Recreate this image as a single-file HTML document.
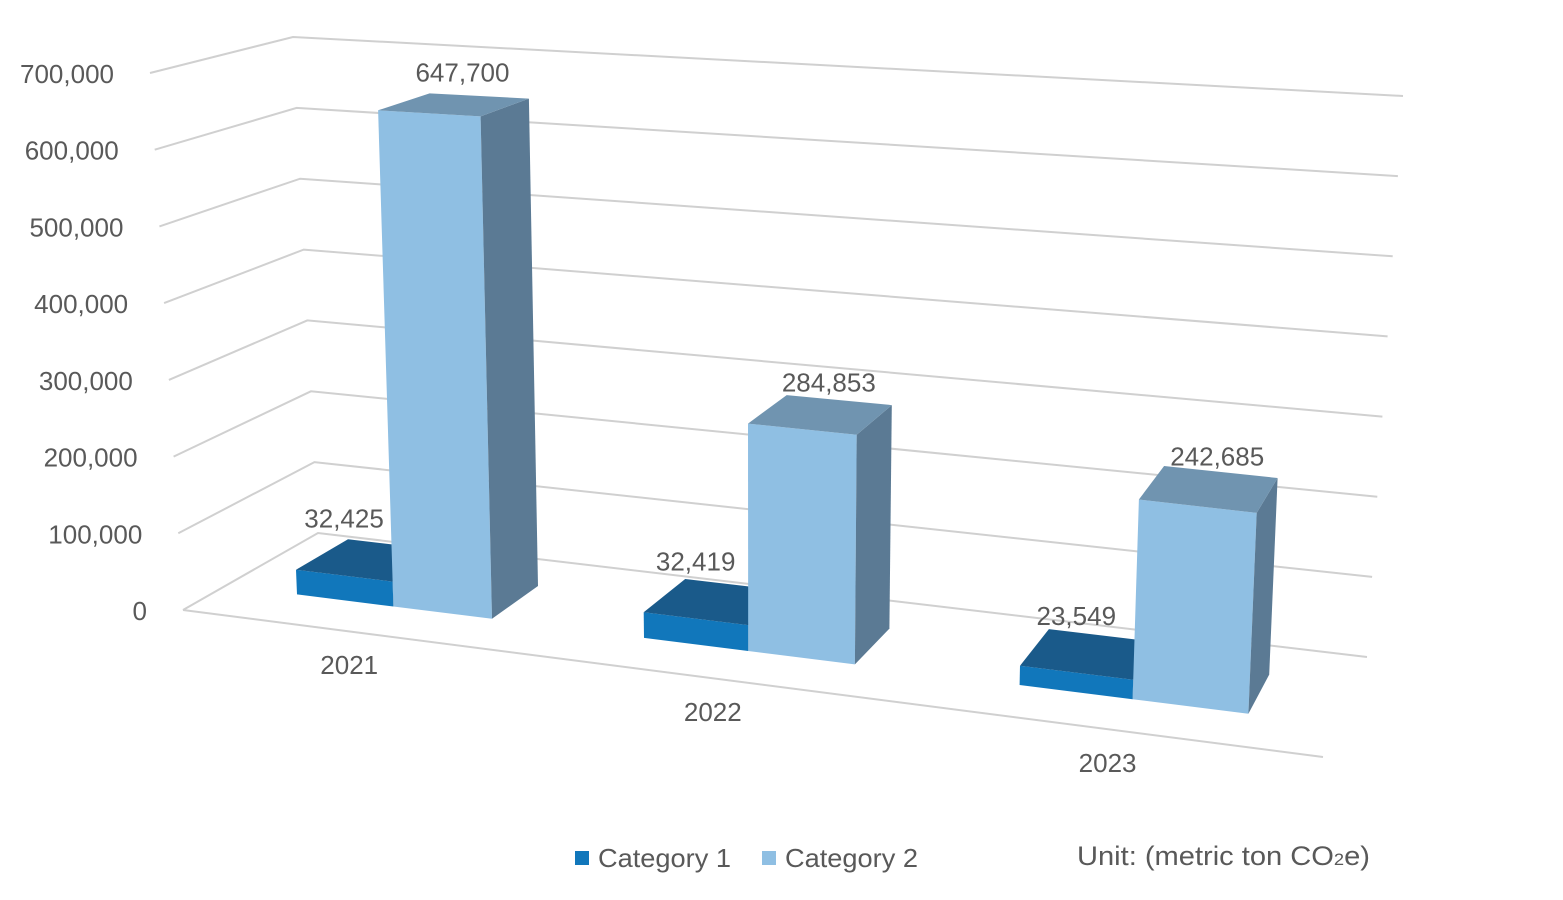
<!DOCTYPE html>
<html><head><meta charset="utf-8">
<style>
html,body{margin:0;padding:0;background:#fff;}
body{width:1563px;height:895px;overflow:hidden;font-family:"Liberation Sans",sans-serif;}
svg text{font-family:"Liberation Sans",sans-serif;fill:#595959;}
</style></head>
<body>
<svg id="chart" width="1563" height="895" viewBox="0 0 1563 895" xmlns="http://www.w3.org/2000/svg">
<g id="grid"></g>
<g id="ylabels"></g>
<g id="bars"></g>
<g id="xlabels"></g>
<g>
  <rect x="575" y="851" width="14" height="14" fill="#1177bb"/>
  <text x="598" y="867" font-size="26" textLength="133" lengthAdjust="spacingAndGlyphs">Category 1</text>
  <rect x="762" y="851" width="14" height="14" fill="#8fbfe3"/>
  <text x="785" y="867" font-size="26" textLength="133" lengthAdjust="spacingAndGlyphs">Category 2</text>
</g>
<text x="1077" y="865" font-size="27" textLength="293" lengthAdjust="spacingAndGlyphs">Unit: (metric ton CO<tspan font-size="17">2</tspan>e)</text>
</svg>
<script>
const categories = ["2021", "2022", "2023"];
const series1 = [32425, 32419, 23549];
const series2 = [647700, 284853, 242685];
const yTicks = [0, 100000, 200000, 300000, 400000, 500000, 600000, 700000];
const yTickLabels = ["0", "100,000", "200,000", "300,000", "400,000", "500,000", "600,000", "700,000"];
const valueLabels1 = ["32,425", "32,419", "23,549"];
const valueLabels2 = ["647,700", "284,853", "242,685"];

const NS = "http://www.w3.org/2000/svg";
const VMAX = 700000;
function homog(q){
  const [x0,y0]=q[0],[x1,y1]=q[1],[x2,y2]=q[2],[x3,y3]=q[3];
  const dx1=x1-x2,dx2=x3-x2,dx3=x0-x1+x2-x3,dy1=y1-y2,dy2=y3-y2,dy3=y0-y1+y2-y3;
  const den=dx1*dy2-dx2*dy1;
  const g=(dx3*dy2-dx2*dy3)/den,h=(dx1*dy3-dx3*dy1)/den;
  const a=x1-x0+g*x1,b=x3-x0+h*x3,c=x0,d=y1-y0+g*y1,e=y3-y0+h*y3,f=y0;
  return (u,v)=>{const w=g*u+h*v+1;return [(a*u+b*v+c)/w,(d*u+e*v+f)/w];};
}
const baseQ=[[183,610],[1323,757],[1367,657],[318,533]];
const topQ=[[150,73],[1360,168],[1403,96],[293,37]];
const Hb = homog(baseQ);
const Ht = homog(topQ);
function P(u,d,v){
  const a=Hb(u,d),b=Ht(u,d),t=v/VMAX;
  return [a[0]+(b[0]-a[0])*t,a[1]+(b[1]-a[1])*t];
}
function PB(u,d,v){
  const a=Hb(u,d),b=Ht(u,d),t=v/VMAX;
  const up=(a[1]-b[1])*t;
  const k=-0.032+(a[0]-380)*(0.068/810);
  return [a[0]+k*up,a[1]-up];
}
function el(tag,attrs,parent){const e=document.createElementNS(NS,tag);for(const k in attrs)e.setAttribute(k,attrs[k]);parent.appendChild(e);return e;}
function pts(a){return a.map(p=>p[0].toFixed(1)+","+p[1].toFixed(1)).join(" ");}

const grid=document.getElementById("grid");
yTicks.forEach((v,i)=>{
  const a=P(0,0,v),b=P(0,1,v),c=P(1,1,v);
  const pl=el("polyline",{points:pts([a,b,c]),fill:"none",stroke:"#d0d0d0","stroke-width":"2"},grid);
  
  
});
const fl=el("line",{x1:P(0,0,0)[0],y1:P(0,0,0)[1],x2:P(1,0,0)[0],y2:P(1,0,0)[1],stroke:"#d0d0d0","stroke-width":"2"},grid);



const yl=document.getElementById("ylabels");
yTicks.forEach((v,i)=>{
  const p=P(0,0,v);
  const t=el("text",{x:p[0]-36,y:p[1]+10,"text-anchor":"end","font-size":"26"},yl);
  t.textContent=yTickLabels[i];
  
  
});

const bars=document.getElementById("bars");
const nG=categories.length, gw=1/nG, bw=gw/3.5, gap=(gw-2*bw)/2, d0=0.3, d1=0.7;
const colors=[{front:"#1177bb",top:"#1a5a8a",side:"#1a5a8a"},{front:"#8fbfe3",top:"#7094b0",side:"#5b7a94"}];
function drawBar(u0,u1,v,col,name,label,front){
  const g=el("g",{},bars);
  
  
  el("polygon",{points:pts([PB(u0,d0,0),PB(u1,d0,0),PB(u1,d0,v),PB(u0,d0,v)]),fill:col.front},g);
  el("polygon",{points:pts([PB(u1,d0,0),PB(u1,d1,0),PB(u1,d1,v),PB(u1,d0,v)]),fill:col.side},g);
  el("polygon",{points:pts([PB(u0,d0,v),PB(u1,d0,v),PB(u1,d1,v),PB(u0,d1,v)]),fill:col.top},g);
  let c,dy,dx;
  if(front){c=PB((u0+u1)/2,d0,v);dx=0;dy=-48;}
  else{c=PB((u0+u1)/2,(d0+d1)/2,v);dx=8;dy=-23;}
  const t=el("text",{x:c[0]+dx,y:c[1]+dy,"text-anchor":"middle","font-size":"26"},bars);
  t.textContent=label;
  
  
}
for(let g=nG-1;g>=0;g--){
  const u0=g*gw+gap;
  drawBar(u0,u0+bw,series1[g],colors[0],"bar-category-1-"+categories[g],valueLabels1[g],true);
  drawBar(u0+bw,u0+2*bw,series2[g],colors[1],"bar-category-2-"+categories[g],valueLabels2[g],false);
}
bars.querySelectorAll('text').forEach(t=>bars.appendChild(t));
const xl=document.getElementById("xlabels");
categories.forEach((c,g)=>{
  const p=P((g+0.5)*gw,0,0);
  const t=el("text",{x:p[0]-5,y:p[1]+42,"text-anchor":"middle","font-size":"26"},xl);
  t.textContent=c;
  
  
});
</script>
</body></html>
